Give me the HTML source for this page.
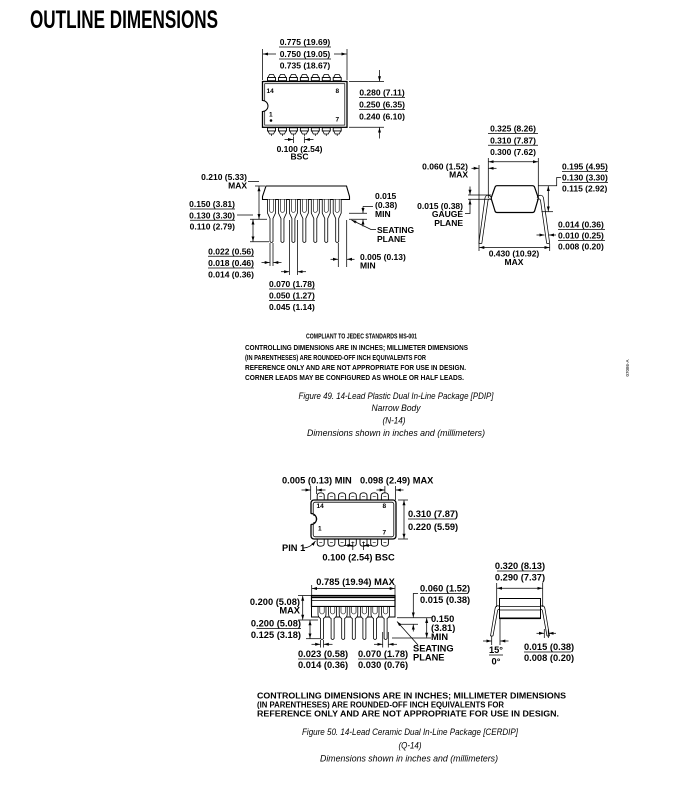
<!DOCTYPE html>
<html><head><meta charset="utf-8">
<style>
html,body{margin:0;padding:0;background:#fff;}
svg{display:block;}
text{fill:#000;}
.d{font-family:"Liberation Sans",Arial,sans-serif;font-weight:bold;font-size:8.5px;}
.e{font-family:"Liberation Sans",Arial,sans-serif;font-weight:bold;font-size:9.3px;}
.n{font-family:"Liberation Sans",Arial,sans-serif;font-weight:bold;font-size:7.6px;}
.n2{font-family:"Liberation Sans",Arial,sans-serif;font-weight:bold;font-size:8.6px;}
.s{font-family:"Liberation Sans",Arial,sans-serif;font-weight:bold;font-size:6.5px;}
.c{font-family:"Liberation Sans",Arial,sans-serif;font-style:italic;font-size:9.5px;}
.l{stroke:#000;stroke-width:.75;fill:none;}
.a{marker-end:url(#ah);}
.b{marker-start:url(#ah);marker-end:url(#ah);}
</style></head><body>
<svg width="695" height="793" viewBox="0 0 695 793" xmlns="http://www.w3.org/2000/svg">
<defs>
<marker id="ah" viewBox="0 0 10 6" refX="10" refY="3" markerWidth="5" markerHeight="3.2" markerUnits="userSpaceOnUse" orient="auto-start-reverse"><path d="M0,0 L10,3 L0,6 z" fill="#000"/></marker>
<g id="p1t"><path d="M-2,74.5 H2 L3.5,77.5 H-3.5 Z" fill="#fff" stroke="#000" stroke-width=".8"/><rect x="-4" y="77.5" width="8" height="3.2" fill="#fff" stroke="#000" stroke-width=".9"/></g>
<g id="p1b"><rect x="-4" y="127.8" width="8" height="3.2" fill="#fff" stroke="#000" stroke-width=".9"/><path d="M-3.5,131 H3.5 L2,134 H-2 Z" fill="#fff" stroke="#000" stroke-width=".8"/><line x1="0" y1="134" x2="0" y2="136" stroke="#000" stroke-width=".7"/></g>
<g id="l1"><path d="M-4,199.5 V213 L-1.5,218.5 V241.5 Q0,243.5 1.5,241.5 V218.5 L4,213 V199.5" fill="#fff" stroke="#000" stroke-width=".8"/><path d="M-2,199.5 V211 Q0,214 2,211 V199.5" fill="none" stroke="#000" stroke-width=".6"/></g>
<g id="p2t"><path d="M-3.5,500 V495.8 Q-3.5,492.8 0,492.8 Q3.5,492.8 3.5,495.8 V500" fill="#fff" stroke="#000" stroke-width=".9"/><path d="M-1.5,496.5 H1.5" stroke="#000" stroke-width=".6"/></g>
<g id="p2b"><path d="M-3.5,539 V543.2 Q-3.5,546.2 0,546.2 Q3.5,546.2 3.5,543.2 V539" fill="#fff" stroke="#000" stroke-width=".9"/><path d="M-1.5,542.5 H1.5" stroke="#000" stroke-width=".6"/></g>
<g id="l2"><path d="M-4,607 V614 Q-4,617 -1.5,618.5 V638.5 Q0,640.5 1.5,638.5 V618.5 Q4,617 4,614 V607" fill="#fff" stroke="#000" stroke-width=".8"/><path d="M-2.2,607 V612.5 Q0,615.5 2.2,612.5 V607" fill="none" stroke="#000" stroke-width=".6"/></g>
</defs>

<!-- TITLE -->
<text x="30" y="28" font-family="Liberation Sans Narrow, Liberation Sans, Arial, sans-serif" font-weight="bold" font-size="25" textLength="188" lengthAdjust="spacingAndGlyphs">OUTLINE DIMENSIONS</text>

<!-- ============ FIGURE 49 TOP VIEW ============ -->
<text class="d" x="305" y="45" text-anchor="middle">0.775 (19.69)</text>
<line class="l" x1="279" y1="47" x2="331" y2="47"/>
<text class="d" x="305" y="57" text-anchor="middle">0.750 (19.05)</text>
<line class="l" x1="279" y1="59" x2="331" y2="59"/>
<text class="d" x="305" y="68.5" text-anchor="middle">0.735 (18.67)</text>
<line class="l a" x1="276" y1="54" x2="263" y2="54"/>
<line class="l a" x1="334" y1="54" x2="346.5" y2="54"/>
<line class="l" x1="262.5" y1="49" x2="262.5" y2="80"/>
<line class="l" x1="347" y1="49" x2="347" y2="80"/>

<use href="#p1t" x="271.5"/><use href="#p1t" x="282.45"/><use href="#p1t" x="293.4"/><use href="#p1t" x="304.35"/><use href="#p1t" x="315.3"/><use href="#p1t" x="326.25"/><use href="#p1t" x="337.2"/>
<use href="#p1b" x="271.5"/><use href="#p1b" x="282.45"/><use href="#p1b" x="293.4"/><use href="#p1b" x="304.35"/><use href="#p1b" x="315.3"/><use href="#p1b" x="326.25"/><use href="#p1b" x="337.2"/>
<rect x="262.5" y="81.5" width="84.5" height="45.8" fill="#fff" stroke="#000" stroke-width="1.3"/>
<rect x="264.7" y="83.7" width="80.1" height="41.4" fill="none" stroke="#000" stroke-width=".7"/>
<rect x="261.5" y="101" width="4" height="10" fill="#fff"/>
<path d="M262.5,100.5 A5.5,5.5 0 0 1 262.5,111.5" fill="#fff" stroke="#000" stroke-width="1"/>
<text class="s" x="266.5" y="93">14</text>
<text class="s" x="335.5" y="93">8</text>
<text class="s" x="269" y="116.5">1</text>
<circle cx="271" cy="120.5" r="1.3" fill="#000"/>
<text class="s" x="335.5" y="121.5">7</text>

<line class="l" x1="349" y1="81.5" x2="384" y2="81.5"/>
<line class="l" x1="349" y1="127.3" x2="384" y2="127.3"/>
<line class="l a" x1="379.5" y1="70" x2="379.5" y2="81.2"/>
<line class="l a" x1="379.5" y1="138.5" x2="379.5" y2="127.6"/>
<text class="d" x="382" y="95.5" text-anchor="middle">0.280 (7.11)</text>
<line class="l" x1="359" y1="97.5" x2="405" y2="97.5"/>
<text class="d" x="382" y="107.5" text-anchor="middle">0.250 (6.35)</text>
<line class="l" x1="359" y1="109.5" x2="405" y2="109.5"/>
<text class="d" x="382" y="119.5" text-anchor="middle">0.240 (6.10)</text>

<line class="l" x1="293.4" y1="136.5" x2="293.4" y2="143"/>
<line class="l" x1="304.35" y1="136.5" x2="304.35" y2="143"/>
<line class="l a" x1="284.5" y1="139.5" x2="293" y2="139.5"/>
<line class="l a" x1="313.5" y1="139.5" x2="304.8" y2="139.5"/>
<text class="d" x="299.5" y="152" text-anchor="middle">0.100 (2.54)</text>
<text class="d" x="299.5" y="159.5" text-anchor="middle">BSC</text>

<!-- ============ FIGURE 49 SIDE VIEW ============ -->
<path d="M266,186 H346.5 L349.5,196.5 V199.5 H262.5 V196.5 Z" fill="#fff" stroke="#000" stroke-width="1.1"/>
<use href="#l1" x="271.5"/><use href="#l1" x="282.45"/><use href="#l1" x="293.4"/><use href="#l1" x="304.35"/><use href="#l1" x="315.3"/><use href="#l1" x="326.25"/><use href="#l1" x="337.2"/>

<text class="d" x="247" y="180" text-anchor="end">0.210 (5.33)</text>
<text class="d" x="247" y="188.5" text-anchor="end">MAX</text>
<line class="l" x1="248" y1="181.5" x2="259" y2="181.5"/>
<line class="l" x1="255" y1="186" x2="265" y2="186"/>
<line class="l b" x1="259" y1="186.3" x2="259" y2="219"/>
<line class="l" x1="250" y1="219.3" x2="267" y2="219.3"/>
<line class="l" x1="250" y1="241.7" x2="269" y2="241.7"/>
<line class="l b" x1="253" y1="219.6" x2="253" y2="241.4"/>
<line class="l" x1="237" y1="215" x2="253" y2="215"/>

<text class="d" x="235" y="207" text-anchor="end">0.150 (3.81)</text>
<line class="l" x1="190" y1="209" x2="235" y2="209"/>
<text class="d" x="235" y="218.3" text-anchor="end">0.130 (3.30)</text>
<line class="l" x1="190" y1="220.3" x2="235" y2="220.3"/>
<text class="d" x="235" y="229.7" text-anchor="end">0.110 (2.79)</text>

<line class="l" x1="349" y1="213.3" x2="367" y2="213.3"/>
<line class="l" x1="349" y1="219.3" x2="367" y2="219.3"/>
<line class="l" x1="363" y1="206.5" x2="373" y2="206.5"/>
<line class="l a" x1="363" y1="206.5" x2="363" y2="213"/>
<line class="l a" x1="363" y1="226.5" x2="363" y2="219.6"/>
<text class="d" x="375" y="199">0.015</text>
<text class="d" x="375" y="208">(0.38)</text>
<text class="d" x="375" y="217">MIN</text>
<text class="d" x="377" y="233">SEATING</text>
<text class="d" x="377" y="242">PLANE</text>
<polyline class="l a" points="376,229.5 371,229.5 351.5,220"/>

<line class="l" x1="270" y1="243" x2="270" y2="266"/>
<line class="l" x1="273" y1="243" x2="273" y2="266"/>
<line class="l a" x1="261.5" y1="262.5" x2="269.7" y2="262.5"/>
<line class="l a" x1="281.5" y1="262.5" x2="273.3" y2="262.5"/>
<text class="d" x="254" y="254.3" text-anchor="end">0.022 (0.56)</text>
<line class="l" x1="208" y1="256.3" x2="254" y2="256.3"/>
<text class="d" x="254" y="266" text-anchor="end">0.018 (0.46)</text>
<line class="l" x1="208" y1="268" x2="254" y2="268"/>
<text class="d" x="254" y="277.5" text-anchor="end">0.014 (0.36)</text>

<line class="l" x1="289.4" y1="220" x2="289.4" y2="275"/>
<line class="l" x1="297.4" y1="220" x2="297.4" y2="275"/>
<line class="l a" x1="281" y1="271.7" x2="289.1" y2="271.7"/>
<line class="l a" x1="306" y1="271.7" x2="297.7" y2="271.7"/>
<text class="d" x="269" y="287">0.070 (1.78)</text>
<line class="l" x1="269" y1="289" x2="315" y2="289"/>
<text class="d" x="269" y="298.5">0.050 (1.27)</text>
<line class="l" x1="269" y1="300.5" x2="315" y2="300.5"/>
<text class="d" x="269" y="310">0.045 (1.14)</text>

<line class="l" x1="338.3" y1="243" x2="338.3" y2="267"/>
<line class="l" x1="346.7" y1="220" x2="346.7" y2="267"/>
<line class="l a" x1="330.5" y1="259.3" x2="338" y2="259.3"/>
<line class="l a" x1="354.5" y1="259.3" x2="347" y2="259.3"/>
<text class="d" x="360" y="260">0.005 (0.13)</text>
<text class="d" x="360" y="268.5">MIN</text>

<!-- ============ FIGURE 49 END VIEW ============ -->
<text class="d" x="513" y="131.5" text-anchor="middle">0.325 (8.26)</text>
<line class="l" x1="488" y1="133.5" x2="538" y2="133.5"/>
<text class="d" x="513" y="143.3" text-anchor="middle">0.310 (7.87)</text>
<line class="l" x1="488" y1="145.3" x2="538" y2="145.3"/>
<text class="d" x="513" y="155" text-anchor="middle">0.300 (7.62)</text>
<line class="l b" x1="488.6" y1="161.7" x2="538" y2="161.7"/>
<line class="l" x1="488.3" y1="158" x2="488.3" y2="198"/>
<line class="l" x1="538.3" y1="158" x2="538.3" y2="198"/>

<line class="l" x1="479" y1="165" x2="479" y2="251"/>
<line class="l a" x1="471.5" y1="168.3" x2="478.7" y2="168.3"/>
<line class="l a" x1="496.5" y1="168.3" x2="488.6" y2="168.3"/>
<text class="d" x="468" y="169.5" text-anchor="end">0.060 (1.52)</text>
<text class="d" x="468" y="177.5" text-anchor="end">MAX</text>

<path d="M497,185.7 H532.5 Q534,185.7 534.6,187.2 L538,197 Q538.4,198.3 538,199.6 L534.6,211 Q534,212.5 532.5,212.5 H497 Q495.5,212.5 495,211 L491.5,199.6 Q491.1,198.3 491.5,197 L495,187.2 Q495.5,185.7 497,185.7 Z" fill="#fff" stroke="#000" stroke-width="1.2"/>
<path class="l" d="M491.5,197.5 C489,194.5 486,194.5 485,198 L478.8,243.5 M491.5,200 C490,198.5 488.5,198.5 488,200.5 L481.8,243.5 M478.8,243.5 H481.8"/>
<path class="l" d="M537,197.5 C539.5,194.5 542.5,194.5 543.5,198 L549.7,243.5 M537,200 C538.5,198.5 540,198.5 540.5,200.5 L546.7,243.5 M549.7,243.5 H546.7"/>

<line class="l" x1="468" y1="195" x2="491" y2="195"/>
<line class="l" x1="468" y1="199.3" x2="491" y2="199.3"/>
<line class="l a" x1="470" y1="186.5" x2="470" y2="194.7"/>
<polyline class="l a" points="465,213.5 470,213.5 470,199.6"/>
<text class="d" x="463" y="209" text-anchor="end">0.015 (0.38)</text>
<text class="d" x="463" y="217" text-anchor="end">GAUGE</text>
<text class="d" x="463" y="226" text-anchor="end">PLANE</text>

<polyline class="l" points="538,185.7 556.7,185.7 556.7,177.5 561,177.5"/>
<line class="l" x1="541.5" y1="211.7" x2="553" y2="211.7"/>
<line class="l b" x1="548.3" y1="186" x2="548.3" y2="211.4"/>
<text class="d" x="562" y="169.5">0.195 (4.95)</text>
<line class="l" x1="562" y1="171.5" x2="608" y2="171.5"/>
<text class="d" x="562" y="180.5">0.130 (3.30)</text>
<line class="l" x1="562" y1="182.5" x2="608" y2="182.5"/>
<text class="d" x="562" y="191.5">0.115 (2.92)</text>

<line class="l a" x1="536.5" y1="235" x2="544.5" y2="235"/>
<line class="l a" x1="556" y1="235" x2="549" y2="235"/>
<text class="d" x="558" y="227.5">0.014 (0.36)</text>
<line class="l" x1="558" y1="229.5" x2="605" y2="229.5"/>
<text class="d" x="558" y="238.5">0.010 (0.25)</text>
<line class="l" x1="558" y1="240.5" x2="605" y2="240.5"/>
<text class="d" x="558" y="249.5">0.008 (0.20)</text>

<line class="l" x1="549.7" y1="244" x2="549.7" y2="251"/>
<line class="l b" x1="479.3" y1="247.5" x2="549.4" y2="247.5"/>
<text class="d" x="514" y="256.5" text-anchor="middle">0.430 (10.92)</text>
<text class="d" x="514" y="265" text-anchor="middle">MAX</text>

<!-- Figure 49 notes -->
<text class="n" x="306" y="338.7" textLength="111" lengthAdjust="spacingAndGlyphs">COMPLIANT TO JEDEC STANDARDS MS-001</text>
<text class="n" x="245" y="350" textLength="223" lengthAdjust="spacingAndGlyphs">CONTROLLING DIMENSIONS ARE IN INCHES; MILLIMETER DIMENSIONS</text>
<text class="n" x="245" y="360" textLength="181" lengthAdjust="spacingAndGlyphs">(IN PARENTHESES) ARE ROUNDED-OFF INCH EQUIVALENTS FOR</text>
<text class="n" x="245" y="370" textLength="221" lengthAdjust="spacingAndGlyphs">REFERENCE ONLY AND ARE NOT APPROPRIATE FOR USE IN DESIGN.</text>
<text class="n" x="245" y="380" textLength="219" lengthAdjust="spacingAndGlyphs">CORNER LEADS MAY BE CONFIGURED AS WHOLE OR HALF LEADS.</text>

<text x="0" y="0" transform="translate(629,368) rotate(-90)" text-anchor="middle" font-family="Liberation Sans, Arial, sans-serif" font-size="4.5" fill="#333">07086-A</text>

<text class="c" x="396" y="399" text-anchor="middle" textLength="195" lengthAdjust="spacingAndGlyphs">Figure 49. 14-Lead Plastic Dual In-Line Package [PDIP]</text>
<text class="c" x="396" y="411" text-anchor="middle" textLength="49" lengthAdjust="spacingAndGlyphs">Narrow Body</text>
<text class="c" x="394" y="423.5" text-anchor="middle" textLength="23" lengthAdjust="spacingAndGlyphs">(N-14)</text>
<text class="c" x="396" y="436" text-anchor="middle" textLength="178" lengthAdjust="spacingAndGlyphs">Dimensions shown in inches and (millimeters)</text>

<!-- ============ FIGURE 50 TOP VIEW ============ -->
<text class="e" x="282" y="483.5">0.005 (0.13) MIN</text>
<text class="e" x="360" y="483.5">0.098 (2.49) MAX</text>
<line class="l" x1="310.7" y1="486" x2="310.7" y2="500"/>
<line class="l" x1="316.5" y1="486" x2="316.5" y2="494"/>
<line class="l a" x1="301.5" y1="490" x2="310.4" y2="490"/>
<line class="l a" x1="325.5" y1="490" x2="316.8" y2="490"/>
<line class="l" x1="384.9" y1="486" x2="384.9" y2="493"/>
<line class="l" x1="395.5" y1="486" x2="395.5" y2="500"/>
<line class="l a" x1="376.5" y1="490" x2="384.6" y2="490"/>
<line class="l a" x1="403.5" y1="490" x2="395.8" y2="490"/>

<use href="#p2t" x="320.7"/><use href="#p2t" x="331.4"/><use href="#p2t" x="342.1"/><use href="#p2t" x="352.8"/><use href="#p2t" x="363.5"/><use href="#p2t" x="374.2"/><use href="#p2t" x="384.9"/>
<use href="#p2b" x="320.7"/><use href="#p2b" x="331.4"/><use href="#p2b" x="342.1"/><use href="#p2b" x="352.8"/><use href="#p2b" x="363.5"/><use href="#p2b" x="374.2"/><use href="#p2b" x="384.9"/>
<rect x="311" y="500" width="85" height="39" rx="3" fill="#fff" stroke="#000" stroke-width="1.3"/>
<rect x="313.2" y="502.2" width="80.6" height="34.6" rx="2" fill="none" stroke="#000" stroke-width=".8"/>
<rect x="309.5" y="513.8" width="5" height="10.4" fill="#fff"/>
<path d="M311,513.5 A5.5,5.5 0 0 1 311,524.5" fill="none" stroke="#000" stroke-width="1.2"/>
<path d="M313.2,515.3 A3.7,3.7 0 0 1 313.2,522.7" fill="none" stroke="#000" stroke-width=".7"/>
<text class="s" x="316.5" y="508">14</text>
<text class="s" x="382.5" y="508">8</text>
<text class="s" x="318" y="530.5">1</text>
<text class="s" x="382.5" y="534.5">7</text>

<line class="l" x1="398" y1="500" x2="408" y2="500"/>
<line class="l" x1="398" y1="539" x2="408" y2="539"/>
<line class="l b" x1="404" y1="500.3" x2="404" y2="538.7"/>
<text class="e" x="408" y="517">0.310 (7.87)</text>
<line class="l" x1="408" y1="519" x2="456" y2="519"/>
<text class="e" x="408" y="530">0.220 (5.59)</text>

<text class="e" x="282" y="551">PIN 1</text>
<path class="l a" d="M303.5,548 Q310,548 315.5,541"/>

<line class="l" x1="352.8" y1="541.5" x2="352.8" y2="550"/>
<line class="l" x1="363.5" y1="541.5" x2="363.5" y2="550"/>
<line class="l a" x1="344" y1="545.5" x2="352.5" y2="545.5"/>
<line class="l a" x1="372" y1="545.5" x2="363.8" y2="545.5"/>
<text class="e" x="358.5" y="560.5" text-anchor="middle">0.100 (2.54) BSC</text>

<!-- ============ FIGURE 50 SIDE VIEW ============ -->
<text class="e" x="355.5" y="585" text-anchor="middle">0.785 (19.94) MAX</text>
<line class="l b" x1="312" y1="588.5" x2="394.7" y2="588.5"/>
<line class="l" x1="311.7" y1="585" x2="311.7" y2="595"/>
<line class="l" x1="395" y1="585" x2="395" y2="595"/>

<rect x="311.5" y="595.5" width="83.5" height="11" fill="#fff" stroke="#000" stroke-width="1.2"/>
<line x1="311.5" y1="597.3" x2="395" y2="597.3" stroke="#000" stroke-width="1.6"/>
<line class="l" x1="311.5" y1="600.5" x2="395" y2="600.5"/>
<rect x="311.5" y="606.5" width="83.5" height="10.5" fill="#fff" stroke="#000" stroke-width="1"/>
<use href="#l2" x="322"/><use href="#l2" x="332.6"/><use href="#l2" x="343.2"/><use href="#l2" x="353.8"/><use href="#l2" x="364.4"/><use href="#l2" x="375"/><use href="#l2" x="385.6"/>

<line class="l" x1="298" y1="595.5" x2="311" y2="595.5"/>
<line class="l b" x1="302.7" y1="595.8" x2="302.7" y2="619.7"/>
<line class="l" x1="298" y1="620" x2="318" y2="620"/>
<line class="l" x1="306" y1="638.7" x2="320" y2="638.7"/>
<line class="l b" x1="310" y1="620.3" x2="310" y2="638.4"/>
<text class="e" x="300" y="605" text-anchor="end">0.200 (5.08)</text>
<text class="e" x="300" y="613.5" text-anchor="end">MAX</text>
<text class="e" x="301" y="626.5" text-anchor="end">0.200 (5.08)</text>
<line class="l" x1="256.5" y1="628.5" x2="301" y2="628.5"/>
<text class="e" x="301" y="638" text-anchor="end">0.125 (3.18)</text>

<line class="l" x1="320.5" y1="640" x2="320.5" y2="647.5"/>
<line class="l" x1="323.5" y1="640" x2="323.5" y2="647.5"/>
<line class="l a" x1="311.5" y1="644.3" x2="320.2" y2="644.3"/>
<line class="l a" x1="332.5" y1="644.3" x2="323.8" y2="644.3"/>
<line class="l" x1="382.7" y1="632" x2="382.7" y2="647.5"/>
<line class="l" x1="388.3" y1="632" x2="388.3" y2="647.5"/>
<line class="l a" x1="374" y1="644.3" x2="382.4" y2="644.3"/>
<line class="l a" x1="397" y1="644.3" x2="388.6" y2="644.3"/>
<text class="e" x="298" y="657">0.023 (0.58)</text>
<line class="l" x1="298" y1="659" x2="346" y2="659"/>
<text class="e" x="298" y="668">0.014 (0.36)</text>
<text class="e" x="358" y="657">0.070 (1.78)</text>
<line class="l" x1="358" y1="659" x2="406" y2="659"/>
<text class="e" x="358" y="668">0.030 (0.76)</text>

<line class="l" x1="397" y1="617.7" x2="432" y2="617.7"/>
<line class="l" x1="400" y1="624.3" x2="418" y2="624.3"/>
<line class="l" x1="392" y1="638" x2="431" y2="638"/>
<polyline class="l a" points="418,593.5 413.3,593.5 413.3,617.4"/>
<line class="l a" x1="413.3" y1="631.5" x2="413.3" y2="624.6"/>
<line class="l b" x1="426.7" y1="618" x2="426.7" y2="637.7"/>
<text class="e" x="420" y="591.5">0.060 (1.52)</text>
<line class="l" x1="420" y1="593.5" x2="468" y2="593.5"/>
<text class="e" x="420" y="603">0.015 (0.38)</text>
<text class="e" x="431" y="622">0.150</text>
<text class="e" x="431" y="631">(3.81)</text>
<text class="e" x="431" y="640">MIN</text>
<text class="e" x="413" y="651.5">SEATING</text>
<text class="e" x="413" y="660.5">PLANE</text>
<line class="l a" x1="418" y1="645" x2="397" y2="621.5"/>

<!-- ============ FIGURE 50 END VIEW ============ -->
<text class="e" x="520" y="569" text-anchor="middle">0.320 (8.13)</text>
<line class="l" x1="497" y1="571" x2="543" y2="571"/>
<text class="e" x="520" y="580.5" text-anchor="middle">0.290 (7.37)</text>
<line class="l b" x1="497" y1="588.3" x2="542.4" y2="588.3"/>
<line class="l" x1="496.7" y1="583" x2="496.7" y2="607"/>
<line class="l" x1="542.7" y1="583" x2="542.7" y2="607"/>

<rect x="499.5" y="598.5" width="41" height="20" fill="#fff" stroke="#000" stroke-width="1"/>
<line class="l" x1="499.5" y1="606.5" x2="540.5" y2="606.5"/>
<line class="l" x1="499.5" y1="610" x2="540.5" y2="610"/>
<line x1="499.5" y1="618.3" x2="540.5" y2="618.3" stroke="#000" stroke-width="1.6"/>
<path class="l" d="M499.5,606.5 C497,605 495.5,606 495,609 L490.5,636 M499.5,609.5 C498.5,609 497.8,609.5 497.5,611 L493,636 M490.5,636 H493"/>
<path class="l" d="M540.5,606.5 C543,605 544.5,606 545,609 L549.5,636 M540.5,609.5 C541.5,609 542.2,609.5 542.5,611 L547,636 M549.5,636 H547"/>

<line class="l" x1="491.7" y1="636" x2="491.7" y2="645"/>
<line class="l" x1="500" y1="619" x2="500" y2="645"/>
<line class="l a" x1="483" y1="641" x2="491.4" y2="641"/>
<line class="l a" x1="508.5" y1="641" x2="500.3" y2="641"/>
<text class="e" x="496" y="653" text-anchor="middle">15°</text>
<line class="l" x1="489" y1="655" x2="503" y2="655"/>
<text class="e" x="496" y="664.5" text-anchor="middle">0°</text>

<line class="l" x1="544.3" y1="629" x2="544.3" y2="638"/>
<line class="l" x1="548.3" y1="629" x2="548.3" y2="638"/>
<line class="l a" x1="536.5" y1="633.3" x2="544" y2="633.3"/>
<line class="l a" x1="556" y1="633.3" x2="548.6" y2="633.3"/>
<text class="e" x="524" y="650">0.015 (0.38)</text>
<line class="l" x1="524" y1="652" x2="571" y2="652"/>
<text class="e" x="524" y="661">0.008 (0.20)</text>

<!-- Figure 50 notes -->
<text class="n2" x="257" y="698.5" textLength="309" lengthAdjust="spacingAndGlyphs">CONTROLLING DIMENSIONS ARE IN INCHES; MILLIMETER DIMENSIONS</text>
<text class="n2" x="257" y="707.5" textLength="247" lengthAdjust="spacingAndGlyphs">(IN PARENTHESES) ARE ROUNDED-OFF INCH EQUIVALENTS FOR</text>
<text class="n2" x="257" y="716.5" textLength="302" lengthAdjust="spacingAndGlyphs">REFERENCE ONLY AND ARE NOT APPROPRIATE FOR USE IN DESIGN.</text>

<text class="c" x="410" y="735" text-anchor="middle" textLength="216" lengthAdjust="spacingAndGlyphs">Figure 50. 14-Lead Ceramic Dual In-Line Package [CERDIP]</text>
<text class="c" x="410" y="748.5" text-anchor="middle" textLength="23" lengthAdjust="spacingAndGlyphs">(Q-14)</text>
<text class="c" x="409" y="761.5" text-anchor="middle" textLength="178" lengthAdjust="spacingAndGlyphs">Dimensions shown in inches and (millimeters)</text>
</svg>
</body></html>
